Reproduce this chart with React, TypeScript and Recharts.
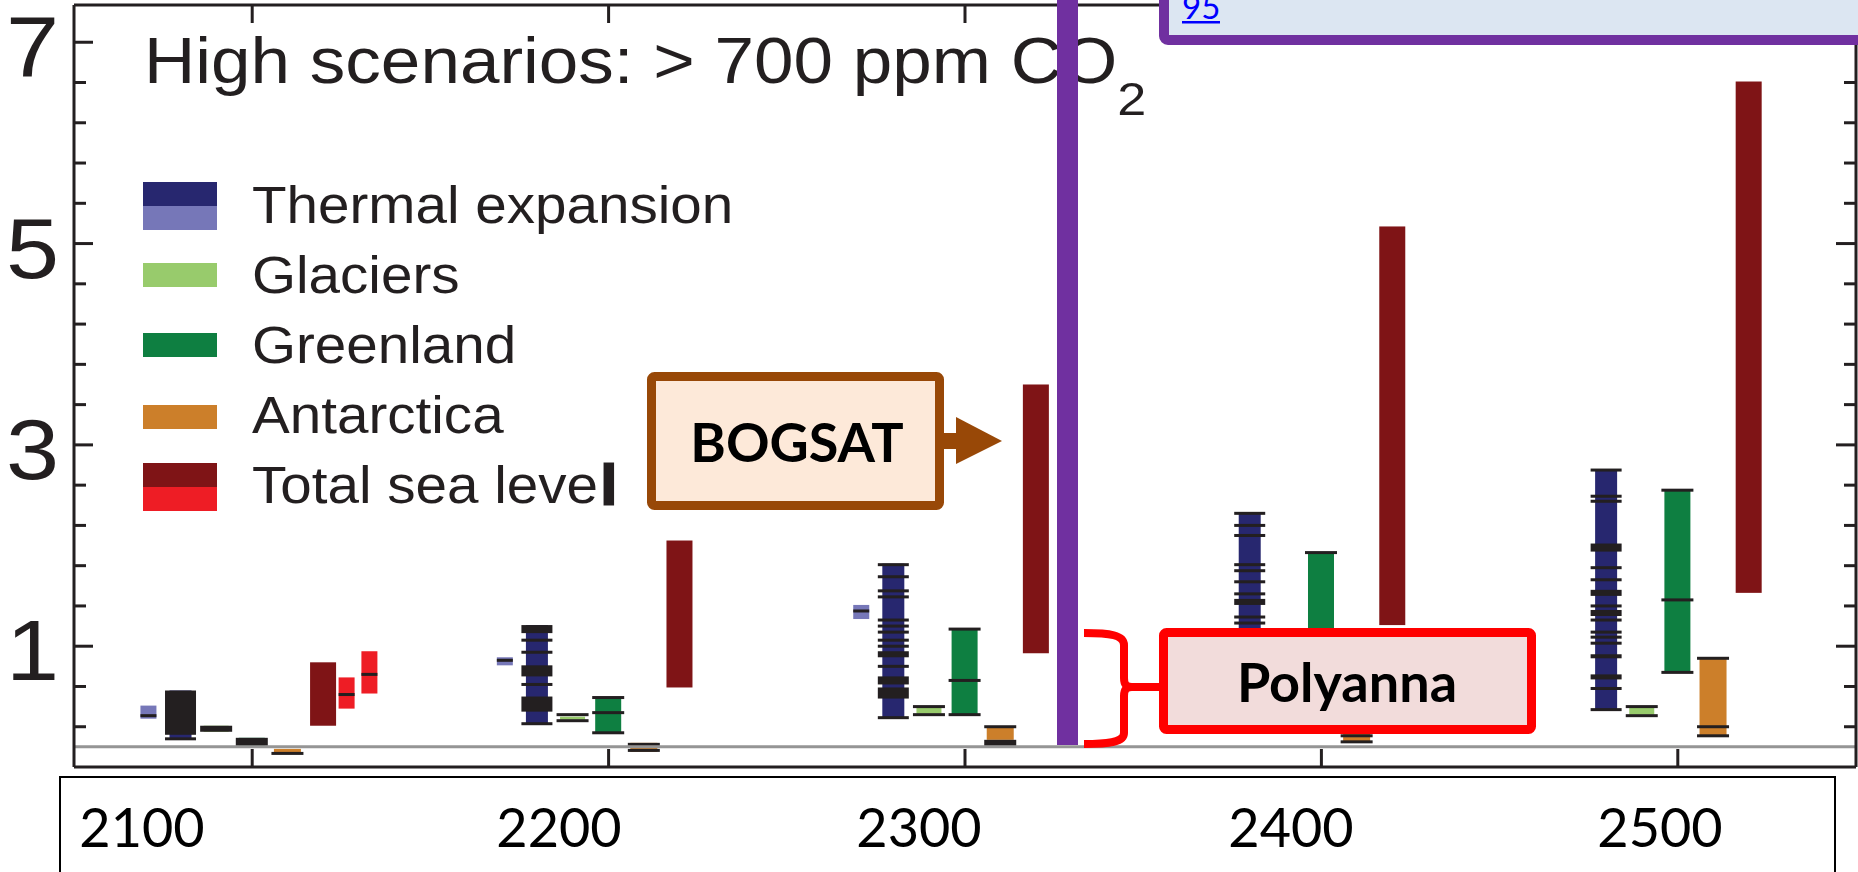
import React from 'react';
import { ComposedChart, Bar, XAxis, YAxis, ReferenceLine } from 'recharts';

const INK = '#231f20';

// groups and axis
const GROUP_YEARS = [2100, 2200, 2300, 2400, 2500];
const YEAR_LABELS = ['2100', '2200', '2300', '2400', '2500'];
const X_TICKS = [2150, 2250, 2350, 2450, 2550];
const Y_TICKS = [0.2, 0.6, 1, 1.4, 1.8, 2.2, 2.6, 3, 3.4, 3.8, 4.2, 4.6, 5, 5.4, 5.8, 6.2, 6.6, 7];
const Y_LABELS = [1, 3, 5, 7];

const LEGEND = ['Thermal expansion', 'Glaciers', 'Greenland', 'Antarctica', 'Total sea level'];

// likely ranges in m, one per group
const thermalRange = [[0.08, 0.56], [0.23, 1.21], [0.29, 1.82], [0.45, 2.32], [0.37, 2.75]];
const glaciersRange = [[0.15, 0.21], [0.27, 0.3], [0.33, 0.39], [0.33, 0.39], [0.32, 0.39]];
const greenlandRange = [[0.01, 0.09], [0.14, 0.49], [0.32, 1.17], [0.6, 1.93], [0.74, 2.55]];
const antarcticaRange = [[-0.06, -0.02], [-0.05, 0.04], [0.07, 0.2], [0.05, 0.55], [0.11, 0.88]];
const totalRange = [[0.21, 0.84], [0.59, 2.05], [0.93, 3.6], [1.21, 5.17], [1.53, 6.61]];

// lighter boxes (first groups only)
const thermalLightRange = [[0.28, 0.41], [0.81, 0.89], [1.27, 1.41]];
const thermalLightTicks = [[0.31], [0.86], [1.35]];
const totalLightRange = [[0.38, 0.69], [0.53, 0.95]];
const totalLightTicks = [[0.52], [0.72]];

// single model results (thin marks) and merged clusters (blocks)
const thermalTicks = [
  [0.08],
  [1.06, 0.94, 0.62, 0.23],
  [1.81, 1.69, 1.55, 1.49, 1.26, 1.2, 1.14, 1.06, 1.0, 0.8, 0.29],
  [2.32, 2.2, 2.1, 1.81, 1.75, 1.64, 1.52, 1.29, 1.23, 1.0, 0.8, 0.45],
  [2.75, 2.49, 2.44, 1.78, 1.66, 1.4, 1.26, 1.14, 1.09, 1.03, 0.58, 0.37],
];
const thermalBlocks = [
  [[0.12, 0.56]],
  [[1.13, 1.21], [0.7, 0.81], [0.35, 0.5]],
  [[0.89, 0.95], [0.62, 0.7], [0.48, 0.59]],
  [[1.41, 1.47]],
  [[1.94, 2.02], [1.5, 1.56], [1.3, 1.36], [0.88, 0.92], [0.67, 0.72]],
];
const glaciersTicks = [[], [0.32, 0.26], [0.4, 0.32], [0.4, 0.32], [0.4, 0.31]];
const glaciersBlocks = [[[0.15, 0.21]], [], [], [], []];
const greenlandTicks = [[], [0.49, 0.34, 0.14], [1.17, 0.66, 0.32], [1.93, 1.1, 0.6], [2.55, 1.46, 0.74]];
const greenlandBlocks = [[[0.01, 0.09]], [], [], [], []];
const antarcticaTicks = [[-0.065], [], [0.2], [0.55, 0.11, 0.05], [0.88, 0.2, 0.11]];
const antarcticaBlocks = [[], [[0.01, 0.04], [-0.05, -0.02]], [[0.01, 0.07]], [], []];

// year offset of each box inside its group
const SLOTS: Record<string, number[]> = {
  thermalLight: [21],
  thermal: [30],
  glaciers: [40],
  greenland: [50],
  antarctica: [60],
  total: [70],
  totalLight: [76.6, 83],
};

const STYLE: Record<string, { fill: string; w: number; tw: number }> = {
  thermalLight: { fill: '#7677b8', w: 16, tw: 16 },
  thermal: { fill: '#27276f', w: 22, tw: 31 },
  glaciers: { fill: '#98cb6c', w: 25, tw: 32 },
  greenland: { fill: '#0e7f41', w: 26, tw: 32 },
  antarctica: { fill: '#cc7f2a', w: 27, tw: 32 },
  total: { fill: '#7f1416', w: 26, tw: 26 },
  totalLight: { fill: '#ee1d25', w: 16, tw: 16 },
};

type Mark = { x: number; range: number[]; kind: string; role: 'bar' | 'block' | 'tick' };

function buildMarks(): Mark[] {
  const bars: Mark[] = [];
  const blocks: Mark[] = [];
  const ticks: Mark[] = [];
  const series = [
    { kind: 'thermal', ranges: thermalRange, t: thermalTicks, b: thermalBlocks },
    { kind: 'glaciers', ranges: glaciersRange, t: glaciersTicks, b: glaciersBlocks },
    { kind: 'greenland', ranges: greenlandRange, t: greenlandTicks, b: greenlandBlocks },
    { kind: 'antarctica', ranges: antarcticaRange, t: antarcticaTicks, b: antarcticaBlocks },
    { kind: 'total', ranges: totalRange, t: [], b: [] },
  ];
  GROUP_YEARS.forEach((g, i) => {
    if (thermalLightRange[i]) {
      const x = g + SLOTS.thermalLight[0];
      bars.push({ x, range: thermalLightRange[i], kind: 'thermalLight', role: 'bar' });
      thermalLightTicks[i].forEach(v => ticks.push({ x, range: [v, v], kind: 'thermalLight', role: 'tick' }));
    }
    series.forEach(s => {
      const x = g + SLOTS[s.kind][0];
      bars.push({ x, range: s.ranges[i], kind: s.kind, role: 'bar' });
      (s.b[i] || []).forEach((r: number[]) => blocks.push({ x, range: r, kind: s.kind, role: 'block' }));
      (s.t[i] || []).forEach((v: number) => ticks.push({ x, range: [v, v], kind: s.kind, role: 'tick' }));
    });
  });
  totalLightRange.forEach((r, j) => {
    const x = GROUP_YEARS[0] + SLOTS.totalLight[j];
    bars.push({ x, range: r, kind: 'totalLight', role: 'bar' });
    totalLightTicks[j].forEach(v => ticks.push({ x, range: [v, v], kind: 'totalLight', role: 'tick' }));
  });
  return [...bars, ...blocks, ...ticks];
}

const marks = buildMarks();

const renderMark = (props: any) => {
  const { x, y, width, height, payload } = props;
  const st = STYLE[payload.kind];
  const cx = x + width / 2;
  if (payload.role === 'bar') {
    return <rect x={cx - st.w / 2} y={y} width={st.w} height={Math.max(height, 1)} fill={st.fill} />;
  }
  if (payload.role === 'block') {
    return <rect x={cx - st.tw / 2} y={y} width={st.tw} height={height} fill={INK} />;
  }
  return <rect x={cx - st.tw / 2} y={y - 1.5} width={st.tw} height={3} fill={INK} />;
};

const LeftTick = ({ x, y, payload }: any) => {
  const major = Y_LABELS.includes(payload.value);
  return (
    <g>
      <line x1={x} x2={x + (major ? 19 : 12)} y1={y} y2={y} stroke={INK} strokeWidth={3} />
      {major && (
        <text
          transform={`translate(${x - 15},${y + 34}) scale(1.11,1)`}
          textAnchor="end"
          fontFamily="'Liberation Sans', Arial, sans-serif"
          fontSize={86}
          fill={INK}
        >
          {payload.value}
        </text>
      )}
    </g>
  );
};

const RightTick = ({ x, y, payload }: any) => {
  const major = Y_LABELS.includes(payload.value);
  return <line x1={x} x2={x - (major ? 20 : 12)} y1={y} y2={y} stroke={INK} strokeWidth={3} />;
};

const TopTick = ({ x, y }: any) => <line x1={x} x2={x} y1={y} y2={y + 18} stroke={INK} strokeWidth={3} />;
const BottomTick = ({ x, y }: any) => <line x1={x} x2={x} y1={y} y2={y - 18} stroke={INK} strokeWidth={3} />;

const LEGEND_SWATCHES = [['#27276f', '#7677b8'], ['#98cb6c'], ['#0e7f41'], ['#cc7f2a'], ['#7f1416', '#ee1d25']];

function Overlay() {
  const sans = "'Liberation Sans', Arial, sans-serif";
  const slide = "Lato, 'Open Sans', sans-serif";
  const swTop = [182, 263, 333, 405, 463];
  const baselines = [223, 293, 363, 433, 503];
  const labelX = [142, 559, 919, 1291, 1660];
  return (
    <svg width={1858} height={872} style={{ position: 'absolute', left: 0, top: 0, pointerEvents: 'none' }}>
      <text transform="translate(144,83) scale(1.11,1)" fontFamily={sans} fontSize={64} fill={INK}>
        High scenarios: &gt; 700 ppm CO
        <tspan fontSize={47} dy={32}>2</tspan>
      </text>

      {LEGEND.map((name, i) => {
        // the last letter of the final entry is smudged into a thick bar in the source
        const thick = i === LEGEND.length - 1;
        return (
          <g key={name}>
            {LEGEND_SWATCHES[i].map((c, j) => (
              <rect key={c} x={143} y={swTop[i] + j * 24} width={74} height={24} fill={c} />
            ))}
            <text transform={`translate(252,${baselines[i]}) scale(1.11,1)`} fontFamily={sans} fontSize={51} fill={INK}>
              {thick ? name.slice(0, -1) : name}
              {thick && (
                <tspan dx={4} stroke={INK} strokeWidth={5}>
                  {name.slice(-1)}
                </tspan>
              )}
            </text>
          </g>
        );
      })}

      {/* vertical divider */}
      <rect x={1057} y={0} width={21} height={745} fill="#7030a0" />

      {/* BOGSAT call-out */}
      <rect x={651.5} y={376.5} width={288} height={129} rx={3} fill="#fde9d9" stroke="#984807" strokeWidth={9} />
      <text x={797} y={462} textAnchor="middle" fontFamily={slide} fontWeight={700} fontSize={54} fill="#000">
        BOGSAT
      </text>
      <rect x={944} y={433} width={14} height={16} fill="#984807" />
      <polygon points="956,417 1002,441 956,464" fill="#984807" />

      {/* Polyanna call-out */}
      <path
        d="M1084,633 C1110,633 1124,635 1124,645 L1124,678 C1124,684 1126,687 1132,687 L1162,687 M1132,687 C1126,687 1124,690 1124,696 L1124,733 C1124,742 1110,744 1084,744"
        fill="none"
        stroke="#ff0000"
        strokeWidth={8}
      />
      <rect x={1163.5} y={632.5} width={368} height={97} rx={3} fill="#f2dcdb" stroke="#ff0000" strokeWidth={9} />
      <text x={1347} y={702} textAnchor="middle" fontFamily={slide} fontWeight={700} fontSize={54} fill="#000">
        Polyanna
      </text>

      {/* top-right note */}
      <rect x={1164} y={-20} width={720} height={60} rx={4} fill="#dce6f2" stroke="#7030a0" strokeWidth={10} />
      <text x={1182} y={19} fontFamily={slide} fontSize={33} fill="#0000ff">95</text>
      <rect x={1182} y={21} width={38} height={2.5} fill="#0000ff" />

      {/* year text box */}
      <rect x={60} y={777} width={1775} height={120} fill="#fff" stroke="#000" strokeWidth={2} />
      {YEAR_LABELS.map((t, i) => (
        <text key={t} x={labelX[i]} y={847} textAnchor="middle" fontFamily={slide} fontSize={54} fill="#000">
          {t}
        </text>
      ))}
    </svg>
  );
}

export default function App() {
  const axisLine = { stroke: INK, strokeWidth: 3 };
  return (
    <div style={{ position: 'relative', width: 1858, height: 872, overflow: 'hidden', background: '#fff' }}>
      <style>{'body{margin:0;overflow:hidden}'}</style>
      <ComposedChart width={1858} height={872} data={marks} margin={{ top: 0, right: 0, bottom: 0, left: 0 }}>
        <XAxis
          xAxisId="bottom"
          dataKey="x"
          type="number"
          domain={[2100, 2600]}
          ticks={X_TICKS}
          interval={0}
          height={105}
          tickSize={0}
          tickMargin={0}
          axisLine={axisLine}
          tickLine={false}
          tick={<BottomTick />}
        />
        <XAxis
          xAxisId="top"
          orientation="top"
          dataKey="x"
          type="number"
          domain={[2100, 2600]}
          ticks={X_TICKS}
          interval={0}
          height={5}
          tickSize={0}
          tickMargin={0}
          axisLine={axisLine}
          tickLine={false}
          tick={<TopTick />}
        />
        <YAxis
          yAxisId="left"
          type="number"
          domain={[-0.2, 7.37]}
          allowDataOverflow
          ticks={Y_TICKS}
          interval={0}
          width={74}
          tickSize={0}
          tickMargin={0}
          axisLine={axisLine}
          tickLine={false}
          tick={<LeftTick />}
        />
        <YAxis
          yAxisId="right"
          orientation="right"
          type="number"
          domain={[-0.2, 7.37]}
          allowDataOverflow
          ticks={Y_TICKS}
          interval={0}
          width={2}
          tickSize={0}
          tickMargin={0}
          axisLine={axisLine}
          tickLine={false}
          tick={<RightTick />}
        />
        <ReferenceLine xAxisId="bottom" yAxisId="left" y={0} stroke="#959595" strokeWidth={3} />
        <Bar
          xAxisId="bottom"
          yAxisId="left"
          dataKey="range"
          barSize={20}
          shape={renderMark}
          isAnimationActive={false}
        />
      </ComposedChart>
      <Overlay />
    </div>
  );
}
